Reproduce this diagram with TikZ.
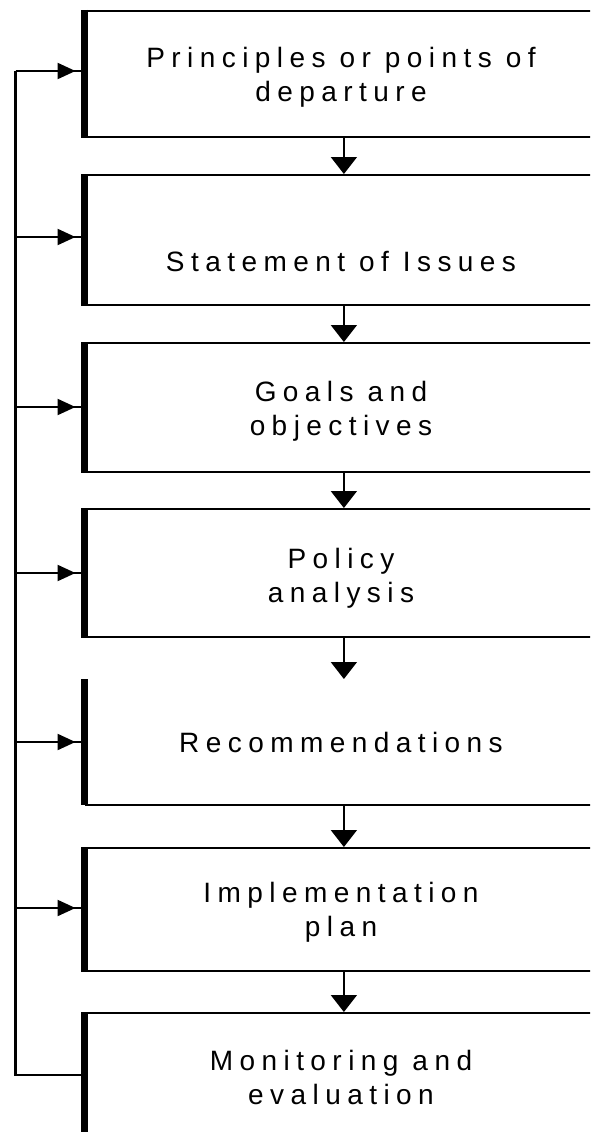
\documentclass[tikz,border=0pt]{standalone}
\usepackage{fontspec}
\setmainfont{Liberation Sans}[LetterSpace=23]
\usetikzlibrary{arrows.meta}
\newcommand{\lblfont}{\fontsize{28}{34}\selectfont\spaceskip=14pt plus 2pt\relax}

\begin{document}
\begin{tikzpicture}[x=1pt, y=-1pt,
        box/.style={draw, line width=1.8pt, minimum width=517pt, anchor=north west, inner sep=0pt},
        openbox/.style={box, draw=none},
        leftedge/.style={line width=7pt},
        lbl/.style={align=center, font=\lblfont, inner sep=0pt},
        flow/.style={line width=1.8pt, -{Triangle[length=17pt,width=26pt]}},
        fb/.style={line width=2.2pt},
        fbarrow/.style={fb, -{Triangle[length=18pt,width=16pt]}, shorten >=9pt}]

                    \useasboundingbox (0,0) rectangle (590,1132);
                    \clip (0,0) rectangle (590,1132);

                    % Boxes (open to the right)
                    \node[box, minimum height=126pt] (b1) at (84.5,10) {};
                    \node[box, minimum height=130pt] (b2) at (84.5,174) {};
                    \node[box, minimum height=129pt] (b3) at (84.5,342) {};
                    \node[box, minimum height=128pt] (b4) at (84.5,508) {};
                    \node[openbox, minimum height=124pt] (b5) at (84.5,679) {};
                    \node[box, minimum height=123pt] (b6) at (84.5,847) {};
                    \node[box, minimum height=200pt] (b7) at (84.5,1012) {};
                    \draw[line width=1.8pt] (b5.south west) -- (b5.south east);
                    \foreach \i in {1,...,7}
                        \draw[leftedge] (b\i.north west) -- (b\i.south west);

                    % Labels
                    \node[lbl] (t1) at (341,77) {Principles or points of\\departure};
                    \node[lbl] (t2) at (341,262) {Statement of Issues};
                    \node[lbl] (t3) at (341,411) {Goals and\\objectives};
                    \node[lbl] (t4) at (341,578) {Policy\\analysis};
                    \node[lbl] (t5) at (341,742) {Recommendations};
                    \node[lbl] (t6) at (341,912) {Implementation\\plan};
                    \node[lbl] (t7) at (341,1077) {Monitoring and\\evaluation};

                    % Edges
                    \draw[flow] (b1.south) -- (b2.north);
                    \draw[flow] (b2.south) -- (b3.north);
                    \draw[flow] (b3.south) -- (b4.north);
                    \draw[flow] (b4.south) -- (b5.north);
                    \draw[flow] (b5.south) -- (b6.north);
                    \draw[flow] (b6.south) -- (b7.north);

                    % Feedback loop
                    \coordinate (k1) at (15.5,71);
                    \coordinate (k2) at (15.5,237);
                    \coordinate (k3) at (15.5,407);
                    \coordinate (k4) at (15.5,573);
                    \coordinate (k5) at (15.5,742);
                    \coordinate (k6) at (15.5,908);
                    \coordinate (k7) at (15.5,1075);
                    \draw[fb] (b7.west |- k7) -- (k7) -- (k1);
                    \foreach \i in {1,...,6} {
                        \draw[fb] (k\i) -- (b\i.west |- k\i);
                        \draw[fbarrow] (k\i) -- (b\i.west |- k\i);
                    }

\end{tikzpicture}
\end{document}
